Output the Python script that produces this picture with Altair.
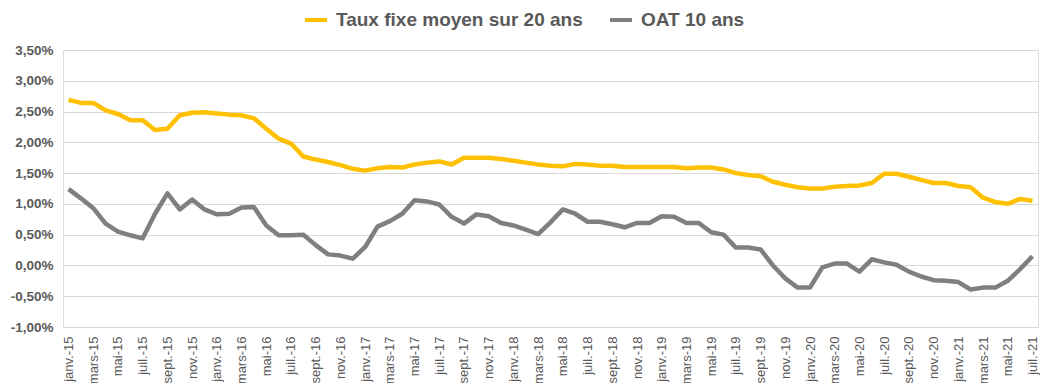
import altair as alt
import pandas as pd

MOIS = ["janv.", "févr.", "mars", "avr.", "mai", "juin",
        "juil.", "août", "sept.", "oct.", "nov.", "déc."]
months = [f"{MOIS[m]}-{y}" for y in range(15, 22) for m in range(12)][:79]

taux = [
    2.69, 2.64, 2.64, 2.52, 2.46, 2.36, 2.36, 2.20, 2.22, 2.44, 2.48, 2.49,
    2.47, 2.45, 2.44, 2.39, 2.22, 2.06, 1.98, 1.77, 1.72, 1.68, 1.63, 1.57,
    1.54, 1.58, 1.60, 1.59, 1.64, 1.67, 1.69, 1.64, 1.75, 1.75, 1.75, 1.73,
    1.70, 1.67, 1.64, 1.62, 1.61, 1.65, 1.64, 1.62, 1.62, 1.60, 1.60, 1.60,
    1.60, 1.60, 1.58, 1.59, 1.59, 1.56, 1.50, 1.47, 1.45, 1.36, 1.31, 1.27,
    1.25, 1.25, 1.28, 1.29, 1.30, 1.34, 1.49, 1.49, 1.44, 1.39, 1.34, 1.34,
    1.29, 1.27, 1.10, 1.03, 1.00, 1.08, 1.05,
]
oat = [
    1.24, 1.09, 0.93, 0.68, 0.55, 0.49, 0.44, 0.84, 1.17, 0.91, 1.07, 0.91,
    0.83, 0.84, 0.94, 0.95, 0.65, 0.49, 0.49, 0.50, 0.33, 0.18, 0.16, 0.11,
    0.30, 0.63, 0.72, 0.84, 1.06, 1.04, 0.99, 0.79, 0.68, 0.83, 0.80, 0.69,
    0.65, 0.58, 0.51, 0.70, 0.91, 0.84, 0.71, 0.71, 0.67, 0.62, 0.69, 0.69,
    0.80, 0.79, 0.69, 0.69, 0.54, 0.50, 0.29, 0.29, 0.26, 0.00, -0.21, -0.36,
    -0.36, -0.03, 0.03, 0.03, -0.10, 0.10, 0.05, 0.01, -0.10, -0.18, -0.24, -0.25,
    -0.27, -0.39, -0.36, -0.36, -0.25, -0.06, 0.15,
]
series = ["Taux fixe moyen sur 20 ans", "OAT 10 ans"]
colors = ["#FFC000", "#7F7F7F"]
y_ticks = [-1.0, -0.5, 0.0, 0.5, 1.0, 1.5, 2.0, 2.5, 3.0, 3.5]
x_labels = months[::2]

rows = []
for s, vals in zip(series, [taux, oat]):
    for i, (m, v) in enumerate(zip(months, vals)):
        rows.append({"mois": m, "serie": s, "valeur": v, "ordre": i})
df = pd.DataFrame(rows)

FONT = "Liberation Sans"

chart = alt.Chart(df).mark_line(strokeWidth=4.5, strokeJoin="round").encode(
    x=alt.X("mois:O", sort=months,
            scale=alt.Scale(type="point", padding=0.45),
            axis=alt.Axis(values=x_labels, labelAngle=270, labelFontSize=13,
                          labelColor="#595959", labelFont=FONT, ticks=False,
                          domain=False, grid=False, labelPadding=9, title=None)),
    y=alt.Y("valeur:Q", scale=alt.Scale(domain=[-1, 3.5], nice=False, zero=False),
            axis=alt.Axis(values=y_ticks, grid=True, gridColor="#d9d9d9",
                          gridWidth=1, domain=False, ticks=False,
                          labelFontSize=13.5, labelFontWeight="bold",
                          labelColor="#595959", labelFont=FONT, labelPadding=10,
                          labelExpr="(datum.value < 0 ? '-' : '') + replace(format(abs(datum.value), '.2f'), '.', ',') + '%'",
                          title=None)),
    color=alt.Color("serie:N", sort=series,
                    scale=alt.Scale(domain=series, range=colors),
                    legend=alt.Legend(orient="none", legendX=240, legendY=-43,
                                      direction="horizontal", symbolType="stroke",
                                      symbolStrokeWidth=4, symbolSize=484,
                                      labelFontSize=19, labelFontWeight="bold",
                                      labelColor="#595959", labelFont=FONT,
                                      labelLimit=400, labelOffset=7,
                                      columnPadding=19, title=None)),
    order=alt.Order("ordre:Q"),
).properties(
    width=975, height=277,
    autosize=alt.AutoSizeParams(type="none"),
    padding={"left": 55, "top": 42, "right": 3, "bottom": 56},
).configure_view(stroke=None).configure(background="white")

chart.save("out.html", embed_options={"renderer": "svg", "actions": False})
